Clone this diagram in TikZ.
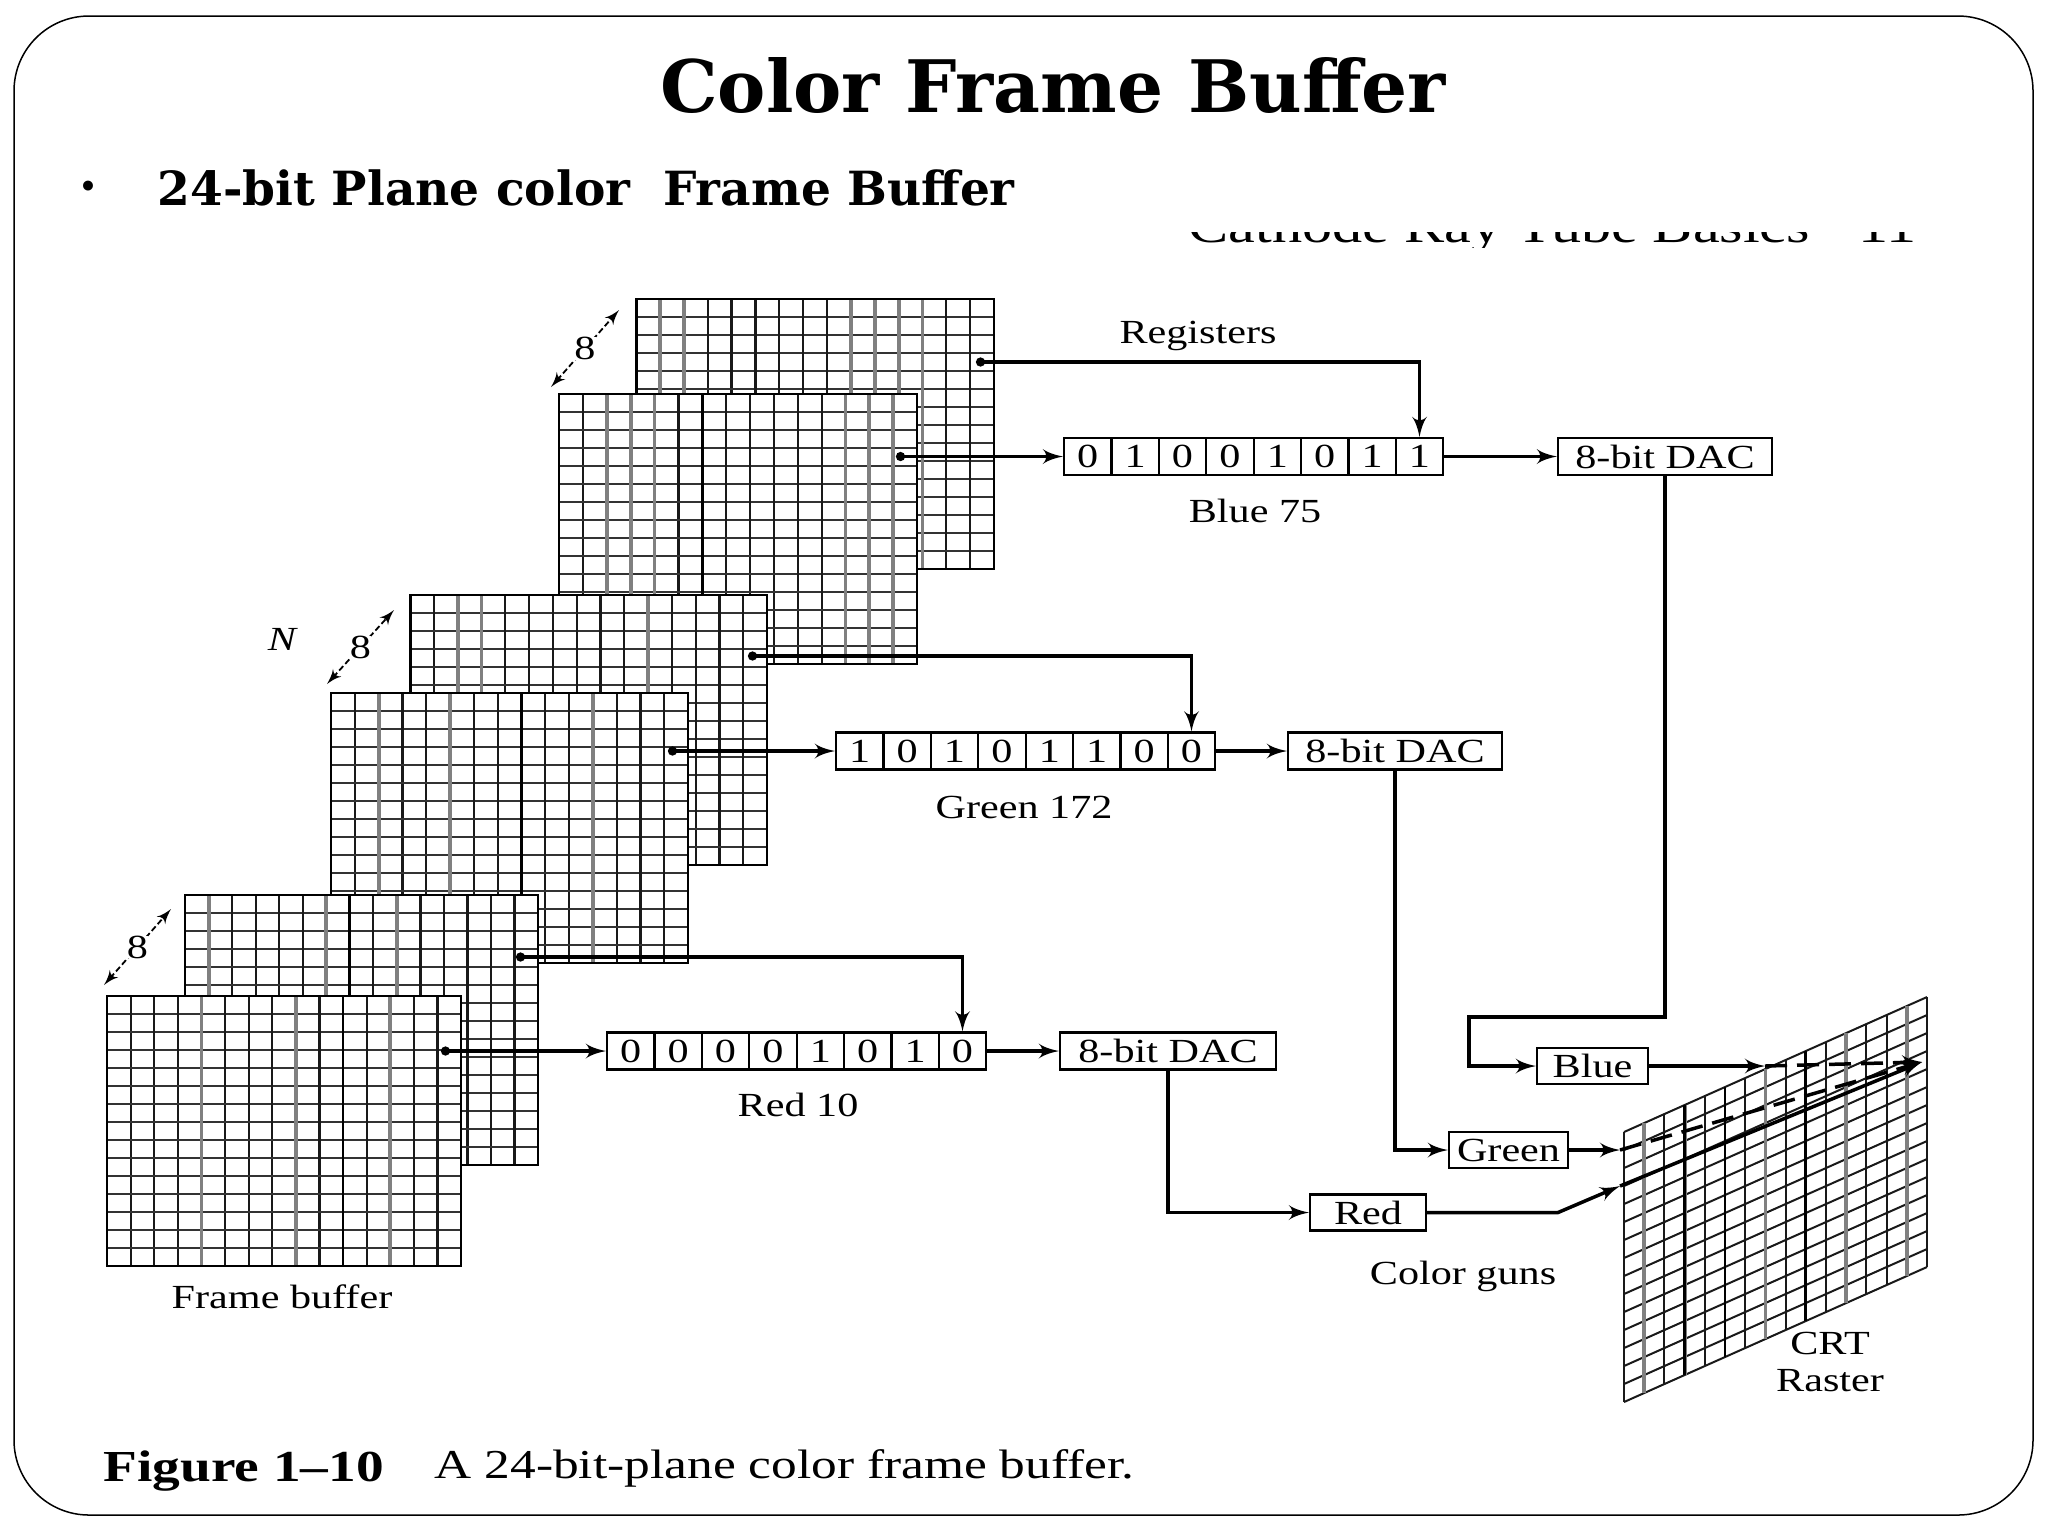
\documentclass[tikz,border=0pt]{standalone}
\usepackage{fontspec}
\usepackage{tikz}
\usetikzlibrary{shapes,arrows,arrows.meta,calc,positioning}
\newfontfamily\headfont{DejaVu Serif}
\newfontfamily\figfont[FakeStretch=1.25]{Liberation Serif}

\begin{document}
\begin{tikzpicture}[x=0.1mm, y=-0.1mm, >=latex']
    \tikzstyle{box} = [rectangle, draw, fill=white, line width=0.22mm, inner sep=0pt, font=\figfont\fontsize{9.6}{11}\selectfont]
    \tikzstyle{bit} = [box, minimum width=4.74mm, minimum height=3.7mm]
    \tikzstyle{dac} = [box, minimum width=21.4mm, minimum height=3.7mm]
    \tikzstyle{gun} = [box, minimum height=3.6mm]
    \tikzstyle{figtext} = [inner sep=0pt, font=\figfont\fontsize{9.6}{11}\selectfont]
    \tikzstyle{depth} = [midway, anchor=center, fill=white, inner sep=0pt, font=\figfont\fontsize{9.6}{11}\selectfont]
    \tikzstyle{line} = [draw, line width=0.35mm, -latex']
    \tikzstyle{tap} = [draw, line width=0.35mm, {Circle[length=0.9mm]}-latex']
    \tikzstyle{beam} = [draw, line width=0.35mm, dash pattern=on 2.2mm off 1mm, -latex']
    \tikzstyle{dim} = [draw, line width=0.18mm, dash pattern=on 0.6mm off 0.3mm, latex'-latex']
    \tikzset{plane/.style n args={3}{rectangle, draw, fill=white, line width=0.22mm, inner sep=0pt, anchor=north west,
        minimum width=#3, minimum height=27mm, path picture={
            \def\bb{path picture bounding box}
            \foreach \i in {1,...,14} {
                \draw[line width=0.2mm, black!80] ($(\bb.north west)!\i/15!(\bb.south west)$) -- ($(\bb.north east)!\i/15!(\bb.south east)$);
                \draw[line width=0.22mm, black!90] ($(\bb.north west)!\i/15!(\bb.north east)$) -- ($(\bb.south west)!\i/15!(\bb.south east)$);
            }
            \foreach \i in {#1}
                \draw[line width=0.38mm, black!50] ($(\bb.north west)!\i/15!(\bb.north east)$) -- ($(\bb.south west)!\i/15!(\bb.south east)$);
            \foreach \i in {#2}
                \draw[line width=0.28mm, black] ($(\bb.north west)!\i/15!(\bb.north east)$) -- ($(\bb.south west)!\i/15!(\bb.south east)$);
        }}}

    \useasboundingbox (0,0) rectangle (2048,1536);
    \draw[line width=0.15mm, rounded corners=7.5mm] (14,16) rectangle (2033,1515);

    % heading
    \node[inner sep=0pt, font=\headfont\bfseries\fontsize{20.6}{24}\selectfont] (title) at (1053,85) {Color Frame Buffer};
    \node[inner sep=0pt, font=\headfont\bfseries\fontsize{8}{10}\selectfont] (bullet) at (88,189) {•};
    \node[inner sep=0pt, anchor=west, font=\headfont\bfseries\fontsize{13.4}{16}\selectfont] (subtitle) at (157,188) {24-bit Plane color\ \ Frame Buffer};
    \begin{scope}
        \clip (1150,232) rectangle (1950,247);
        \node[inner sep=0pt, anchor=base west, font=\figfont\fontsize{13.7}{16}\selectfont] (pagehead) at (1188,242) {Cathode Ray Tube Basics\quad 11};
    \end{scope}

    % planes
    \node[plane={1,2,9,10,11,12}{0}{35.8mm}] (blueback) at (635,298) {};
    \node[plane={2,3,4,12,13,14}{6}{35.8mm}] (bluefront) at (558,393) {};
    \node[plane={2,3,10}{0}{35.7mm}] (greenback) at (409,594) {};
    \node[plane={2,5,11}{8}{35.7mm}] (greenfront) at (330,692) {};
    \node[plane={1,6,9}{7}{35.3mm}] (redback) at (184,894) {};
    \node[plane={4,8,12}{10}{35.4mm}] (redfront) at (106,995) {};

    % raster
    \foreach \i in {0,...,15}
        \draw[line width=0.2mm, black!90] ({1624+20.2*\i},{1132-9*\i}) -- ({1624+20.2*\i},{1402-9*\i});
    \foreach \i in {0,...,15}
        \draw[line width=0.2mm, black!90] (1624,{1132+18*\i}) -- (1927,{997+18*\i});
    \foreach \i in {1,3,7,11,14}
        \draw[line width=0.38mm, black!50] ({1624+20.2*\i},{1132-9*\i}) -- ({1624+20.2*\i},{1402-9*\i});
    \foreach \i in {3,5,9}
        \draw[line width=0.28mm] ({1624+20.2*\i},{1132-9*\i}) -- ({1624+20.2*\i},{1402-9*\i});

    % registers
    \foreach \b [count=\i] in {0,1,0,0,1,0,1,1}
        \node[bit] (bluebit\i) at ({1064+47.4*(\i-.5)},456.5) {\b};
    \foreach \b [count=\i] in {1,0,1,0,1,1,0,0}
        \node[bit] (greenbit\i) at ({836+47.4*(\i-.5)},751) {\b};
    \foreach \b [count=\i] in {0,0,0,0,1,0,1,0}
        \node[bit] (redbit\i) at ({607+47.4*(\i-.5)},1051) {\b};

    \node[dac] (bluedac) at (1665,456.5) {8-bit DAC};
    \node[dac] (greendac) at (1395,751) {8-bit DAC};
    \node[dac, minimum width=21.6mm] (reddac) at (1168,1051) {8-bit DAC};

    \node[gun, minimum width=11.1mm] (bluegun) at (1592.5,1066) {Blue};
    \node[gun, minimum width=11.9mm] (greengun) at (1508.5,1150) {Green};
    \node[gun, minimum width=11.6mm] (redgun) at (1368,1212.5) {Red};

    % labels
    \node[figtext] (registers) at (1198,336) {Registers};
    \node[figtext] (bluename) at (1255,511) {Blue 75};
    \node[figtext] (greenname) at (1024,807) {Green 172};
    \node[figtext] (redname) at (798,1105) {Red 10};
    \node[figtext] (framebuffer) at (282,1297) {Frame buffer};
    \node[figtext] (colorguns) at (1463,1276) {Color guns};
    \node[figtext] (crt) at (1830,1343) {CRT};
    \node[figtext, below=1.4mm of crt] (raster) {Raster};
    \node[figtext] (planecount) at (282,639) {\itshape N};
    \node[figtext, anchor=west, font=\figfont\bfseries\fontsize{12.6}{15}\selectfont] (figno) at (103,1471) {Figure 1–10};
    \node[figtext, anchor=west, font=\figfont\fontsize{11.7}{14}\selectfont] (figcaption) at (434,1468) {A 24-bit-plane color frame buffer.};

    % depth marks
    \coordinate (bluemarka) at (551,387);
    \coordinate (bluemarkb) at (619,310);
    \coordinate (greenmarka) at (327,684);
    \coordinate (greenmarkb) at (394,610);
    \coordinate (redmarka) at (104,985);
    \coordinate (redmarkb) at (171,909);
    \path [dim] (bluemarka) -- node[depth] (bluedepth) {8} (bluemarkb);
    \path [dim] (greenmarka) -- node[depth] (greendepth) {8} (greenmarkb);
    \path [dim] (redmarka) -- node[depth] (reddepth) {8} (redmarkb);

    % taps
    \coordinate (bluebacktap) at (976,362);
    \coordinate (bluefronttap) at (896,456.5);
    \coordinate (greenbacktap) at (748,656);
    \coordinate (greenfronttap) at (668,751);
    \coordinate (redbacktap) at (516,957);
    \coordinate (redfronttap) at (441,1051);

    \path [tap] (bluebacktap) -| (bluebit8.north);
    \path [tap] (bluefronttap) -- (bluebit1.west);
    \path [tap] (greenbacktap) -| (greenbit8.north);
    \path [tap] (greenfronttap) -- (greenbit1.west);
    \path [tap] (redbacktap) -| (redbit8.north);
    \path [tap] (redfronttap) -- (redbit1.west);

    \path [line] (bluebit8.east) -- (bluedac.west);
    \path [line] (greenbit8.east) -- (greendac.west);
    \path [line] (redbit8.east) -- (reddac.west);

    \coordinate (bluedrop) at (1469,1017);
    \path [line] (bluedac.south) |- (bluedrop) |- (bluegun.west);
    \path [line] (greendac.south) |- (greengun.west);
    \path [line] (reddac.south) |- (redgun.west);

    % beams
    \coordinate (bluehit) at (1765,1066);
    \coordinate (greenhit) at (1620,1150);
    \coordinate (redbend) at (1558,1212.5);
    \coordinate (redhit) at (1620,1186);
    \coordinate (spot) at (1922,1062);

    \path [line] (bluegun.east) -- (bluehit);
    \path [line] (greengun.east) -- (greenhit);
    \path [line] (redgun.east) -- (redbend) -- (redhit);
    \path [beam] (bluehit) -- (spot);
    \path [beam] (greenhit) -- (spot);
    \path [line] (redhit) -- (spot);
\end{tikzpicture}
\end{document}
